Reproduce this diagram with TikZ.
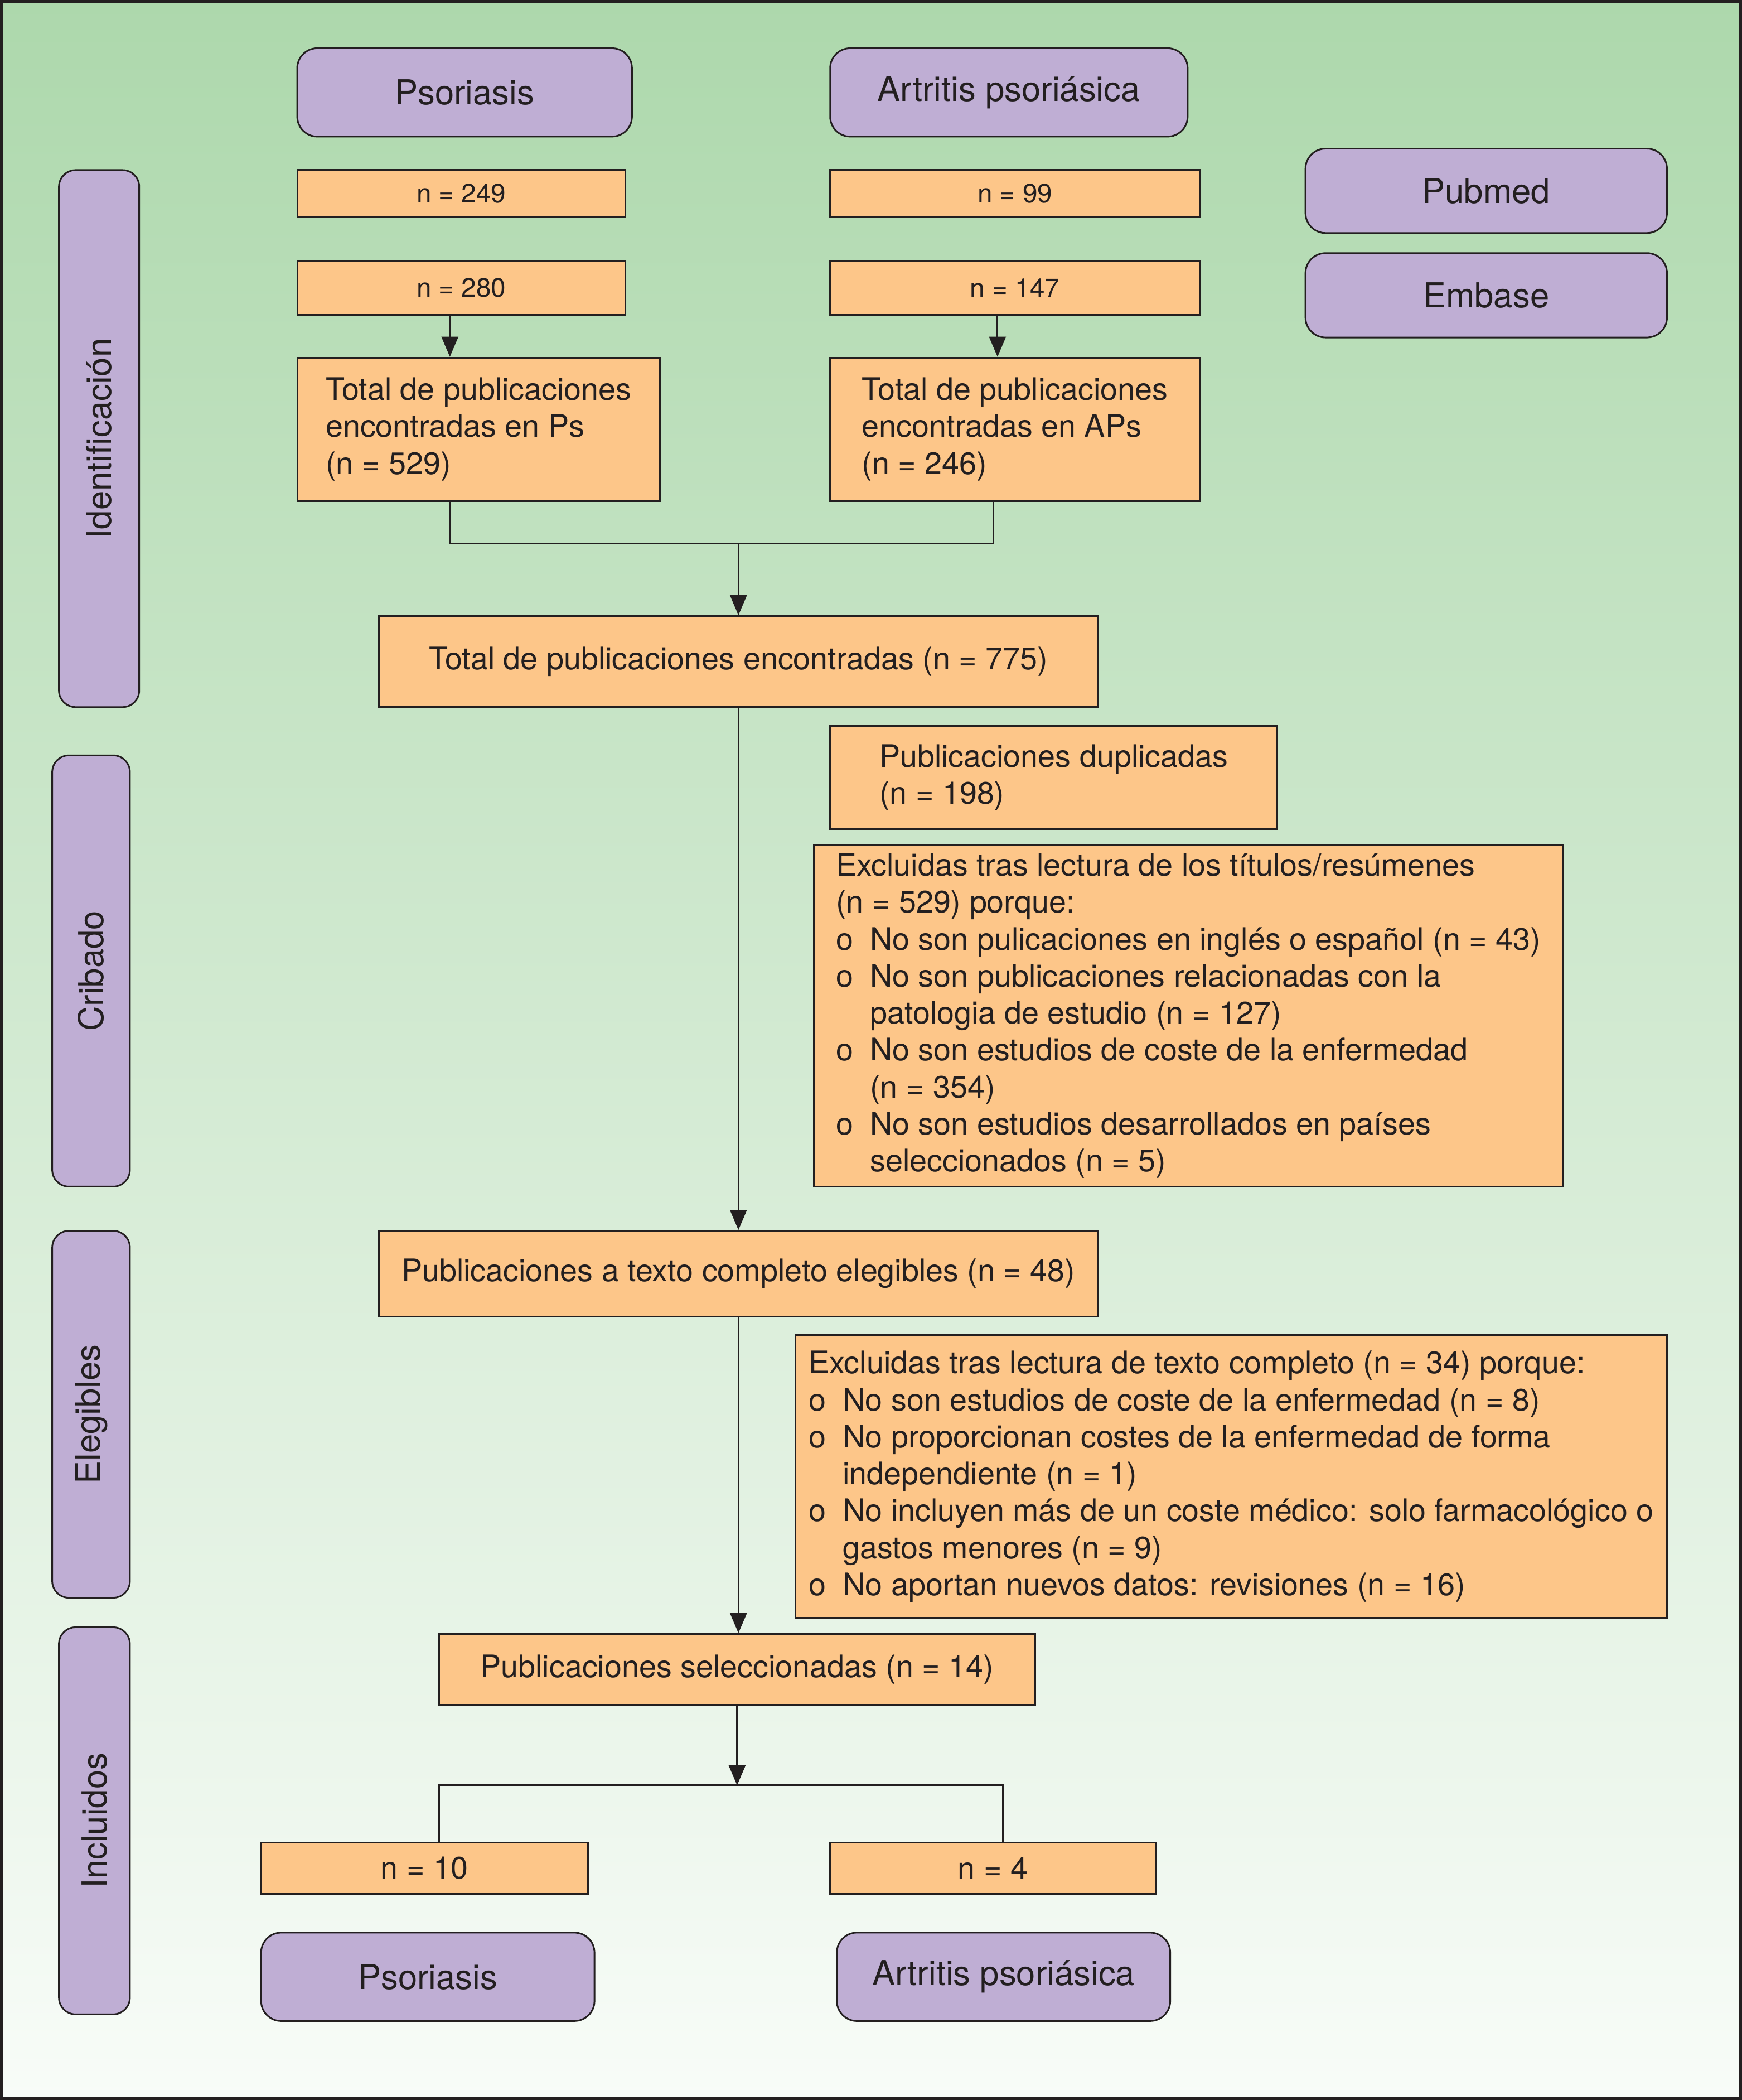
\documentclass[tikz,border=0pt]{standalone}
\usepackage{fontspec}
\setmainfont{TeX Gyre Heros}
\usetikzlibrary{arrows.meta,positioning}
\definecolor{lila}{RGB}{191,174,212}
\definecolor{naranja}{RGB}{253,198,137}
\definecolor{tinta}{RGB}{35,31,32}
\definecolor{verdeArriba}{RGB}{173,216,172}
\definecolor{verdeAbajo}{RGB}{248,252,248}
\newcommand{\bul}{\makebox[0.51cm][l]{o}}
\newcommand{\cont}{\hspace*{0.51cm}}
\tikzset{%
  >={Triangle[width=2.5mm,length=3mm]},
  % Specifications for style of nodes:
        base/.style = {draw=tinta, line width=0.7pt, text=tinta,
                       inner sep=0pt, align=left},
   sourceBox/.style = {base, rectangle, rounded corners=0.3cm, fill=lila,
                       font=\fontsize{14.6}{17}\selectfont},
    stageBox/.style = {sourceBox, rotate=90, rounded corners=0.25cm},
    countBox/.style = {base, rectangle, fill=naranja,
                       font=\fontsize{13.2}{15.7}\selectfont},
    smallBox/.style = {countBox, font=\fontsize{11.3}{13}\selectfont},
}

\begin{document}
\begin{tikzpicture}[color=tinta, line width=0.7pt]
  \useasboundingbox (0,0) rectangle (26.02,-31.36);
  % background and frame
  \shade[top color=verdeArriba, bottom color=verdeAbajo] (0,0) rectangle (26.02,-31.36);
  \draw[line width=1.2pt] (0.02,-0.02) rectangle (26.0,-31.34);

  % Specification of nodes (position, etc.)
  \node (psTop)   [sourceBox, minimum width=5cm, minimum height=1.32cm]    at (6.94,-1.38)  {Psoriasis};
  \node (apsTop)  [sourceBox, minimum width=5.34cm, minimum height=1.32cm] at (15.07,-1.38) {Artritis psoriásica};
  \node (pubmed)  [sourceBox, minimum width=5.4cm, minimum height=1.26cm]  at (22.2,-2.85)  {Pubmed};
  \node (embase)  [sourceBox, minimum width=5.4cm, minimum height=1.26cm]  at (22.2,-4.41)  {Embase};

  \node (nPsA)    [smallBox, minimum width=4.9cm, minimum height=0.7cm]   at (6.89,-2.89)  {n = 249};
  \node (nApsA)   [smallBox, minimum width=5.52cm, minimum height=0.7cm]  at (15.16,-2.89) {n = 99};
  \node (nPsB)    [smallBox, minimum width=4.9cm, minimum height=0.8cm]   at (6.89,-4.30)  {n = 280};
  \node (nApsB)   [smallBox, minimum width=5.52cm, minimum height=0.8cm]  at (15.16,-4.30) {n = 147};

  \node (totPs)   [countBox, minimum width=5.42cm, minimum height=2.14cm] at (7.15,-6.41)
        {Total de publicaciones\\ encontradas en Ps\\ (n = 529)};
  \node (totAps)  [countBox, minimum width=5.52cm, minimum height=2.14cm] at (15.16,-6.41)
        {Total de publicaciones\\ encontradas en APs\\ (n = 246)};

  \node (total)   [countBox, minimum width=10.74cm, minimum height=1.36cm] at (11.03,-9.88)
        {Total de publicaciones encontradas (n = 775)};
  \node (dupl)    [countBox, minimum width=6.68cm, minimum height=1.54cm]  at (15.74,-11.61)
        {Publicaciones duplicadas\\ (n = 198)};
  \node (exclTit) [countBox, minimum width=11.18cm, minimum height=5.1cm]  at (17.75,-15.17)
        {Excluidas tras lectura de los títulos/resúmenes\\
         (n = 529) porque:\\
         \bul No son pulicaciones en inglés o español (n = 43)\\
         \bul No son publicaciones relacionadas con la\\
         \cont patologia de estudio (n = 127)\\
         \bul No son estudios de coste de la enfermedad\\
         \cont (n = 354)\\
         \bul No son estudios desarrollados en países\\
         \cont seleccionados (n = 5)};

  \node (elegib)  [countBox, minimum width=10.74cm, minimum height=1.28cm] at (11.03,-19.02)
        {Publicaciones a texto completo elegibles (n = 48)};
  \node (exclTxt) [countBox, minimum width=13.02cm, minimum height=4.22cm] at (18.39,-22.05)
        {Excluidas tras lectura de texto completo (n = 34) porque:\\
         \bul No son estudios de coste de la enfermedad (n = 8)\\
         \bul No proporcionan costes de la enfermedad de forma\\
         \cont independiente (n = 1)\\
         \bul No incluyen más de un coste médico: solo farmacológico o\\
         \cont gastos menores (n = 9)\\
         \bul No aportan nuevos datos: revisiones (n = 16)};

  \node (selec)   [countBox, minimum width=8.9cm, minimum height=1.06cm]  at (11.01,-24.93)
        {Publicaciones seleccionadas (n = 14)};
  \node (nPsC)    [countBox, minimum width=4.88cm, minimum height=0.76cm] at (6.34,-27.9)  {n = 10};
  \node (nApsC)   [countBox, minimum width=4.86cm, minimum height=0.76cm] at (14.83,-27.9) {n = 4};
  \node (psBot)   [sourceBox, minimum width=4.98cm, minimum height=1.32cm] at (6.39,-29.52)  {Psoriasis};
  \node (apsBot)  [sourceBox, minimum width=4.98cm, minimum height=1.32cm] at (14.99,-29.52) {Artritis psoriásica};

  % stages on the left
  \node (identif) [stageBox, minimum width=8.02cm, minimum height=1.2cm]  at (1.48,-6.55)  {Identificación};
  \node (cribado) [stageBox, minimum width=6.44cm, minimum height=1.16cm] at (1.36,-14.5)  {Cribado};
  \node (elegSt)  [stageBox, minimum width=5.48cm, minimum height=1.16cm] at (1.36,-21.12) {Elegibles};
  \node (incluSt) [stageBox, minimum width=5.78cm, minimum height=1.06cm] at (1.41,-27.19) {Incluidos};

  % Specification of lines between nodes specified above
  \coordinate (joinTop) at (11.03,-8.12);
  \coordinate (split)   at (11.01,-26.66);

  \draw[->]   ([xshift=-0.17cm]nPsB.south) -- ([xshift=-0.17cm]nPsB.south |- totPs.north);
  \draw[->]   ([xshift=-0.26cm]nApsB.south) -- ([xshift=-0.26cm]nApsB.south |- totAps.north);
  \draw[-]    ([xshift=-0.43cm]totPs.south) |- (joinTop) -| ([xshift=-0.32cm]totAps.south);
  \draw[->]   (joinTop) -- (total.north);
  \draw[->]   (total.south) -- (elegib.north);
  \draw[->]   (elegib.south) -- (elegib.south |- selec.north);
  \draw[->]   (selec.south) -- (split);
  \draw[-]    ([xshift=0.22cm]nPsC.north) |- (split) -| ([xshift=0.15cm]nApsC.north);
\end{tikzpicture}
\end{document}
